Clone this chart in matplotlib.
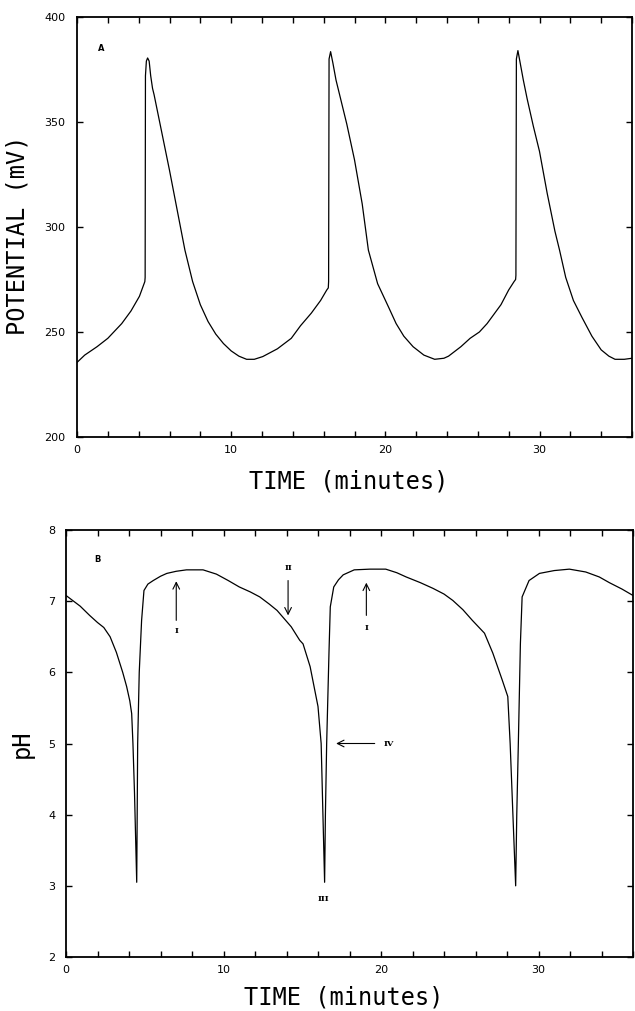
import numpy as np
import matplotlib.pyplot as plt

# panel A: potential (mV) vs time (min)
pot_t = [0.0, 0.5, 1.3, 2.0, 2.9, 3.5, 4.05, 4.3, 4.4,
         4.42, 4.44, 4.5, 4.58, 4.68, 4.78, 4.9, 5.0, 5.5, 6.0, 6.5, 7.0,
         7.5, 8.0, 8.5, 9.0, 9.5, 10.0, 10.5, 11.0, 11.5, 12.05, 13.0, 13.9,
         14.5, 15.2, 15.8, 16.2, 16.3,
         16.32, 16.35, 16.45, 16.6, 16.8, 17.1, 17.5, 18.0, 18.5, 18.9, 19.5,
         20.2, 20.7, 21.2, 21.8, 22.5, 23.2, 23.8, 24.1, 24.9, 25.5, 26.1,
         26.6, 27.0, 27.5, 28.0, 28.35, 28.45,
         28.47, 28.5, 28.6, 28.75, 28.95, 29.2, 29.6, 30.0, 30.5, 31.0, 31.3,
         31.7, 32.2, 32.75, 33.4, 34.0, 34.5, 34.9, 35.5, 36.0]
pot_v = [235.5, 239, 243, 247, 254, 260, 267, 272, 274,
         276, 372, 379, 380.5, 379, 372, 366, 363, 345, 327, 308, 289,
         274, 263, 255, 249, 244.5, 241, 238.5, 237, 237, 238.3, 242, 247,
         253, 259, 265, 270, 271,
         274, 380, 383.5, 378, 370, 361, 349, 332, 311, 289, 273,
         262, 254, 248, 243, 239, 237, 237.5, 238.5, 243, 247, 250,
         254, 258, 263, 270, 274, 275,
         277, 380, 384, 378, 370, 361, 348, 336, 316, 298, 289,
         276, 265, 257, 248, 241.5, 238.5, 237, 237, 237.5]

# panel B: pH vs time (min)
ph_t = [0.0, 0.9, 1.5, 2.0, 2.4, 2.8, 3.2, 3.6, 3.85, 4.05, 4.17, 4.25, 4.35, 4.49,
        4.52, 4.55, 4.65, 4.8, 4.95, 5.2, 5.54, 6.0, 6.4, 7.0, 7.65, 8.7,
        9.55, 10.3, 11.0, 11.7, 12.3, 12.9, 13.4, 14.3, 14.84, 15.05, 15.5,
        15.75, 16.0, 16.2, 16.42,
        16.47, 16.55, 16.7, 16.78, 17.0, 17.3, 17.6, 18.3, 19.3, 20.3, 21.0,
        21.6, 22.5, 23.3, 24.0, 24.56, 25.2, 25.8, 26.57, 27.1, 27.7, 28.05,
        28.2, 28.55,
        28.62, 28.72, 28.85, 28.96, 29.4, 30.06, 31.0, 31.96, 33.0, 33.86,
        34.5, 35.3, 36.0]
ph_v = [7.08, 6.93, 6.8, 6.7, 6.63, 6.5, 6.28, 6.0, 5.8, 5.6, 5.42, 5.0, 4.3, 3.05,
        4.0, 5.0, 6.0, 6.73, 7.15, 7.24, 7.29, 7.35, 7.39, 7.42, 7.44, 7.44,
        7.38, 7.29, 7.2, 7.13, 7.06, 6.96, 6.87, 6.64, 6.45, 6.4, 6.08,
        5.8, 5.52, 5.0, 3.05,
        4.0, 5.0, 6.3, 6.92, 7.2, 7.3, 7.37, 7.44, 7.45, 7.45, 7.4,
        7.34, 7.26, 7.18, 7.1, 7.01, 6.88, 6.73, 6.55, 6.27, 5.89, 5.66,
        5.0, 3.0,
        4.0, 5.0, 6.4, 7.06, 7.29, 7.39, 7.43, 7.45, 7.41, 7.34,
        7.26, 7.17, 7.08]

# arrow annotations on panel B: (label, arrow start, arrow end, label pos)
arrows = [
    ("I", (7.0, 6.73), (7.0, 7.28), (7.0, 6.58)),
    ("II", (14.1, 7.29), (14.1, 6.8), (14.1, 7.47)),
    ("I", (19.07, 6.8), (19.07, 7.26), (19.07, 6.62)),
    ("IV", (19.6, 5.0), (17.15, 5.0), (20.15, 5.0)),
]

label_font = "DejaVu Sans Mono"

fig = plt.figure(figsize=(6.35, 10.11), dpi=100)
ax1 = fig.add_axes([77 / 635, 1 - 437 / 1011, 555 / 635, 420 / 1011])
ax2 = fig.add_axes([66 / 635, 1 - 957 / 1011, 567 / 635, 427 / 1011])

ax1.plot(pot_t, pot_v, color="black", lw=0.9)
ax2.plot(ph_t, ph_v, color="black", lw=0.9)

ax1.set_xlim(0, 36)
ax1.set_ylim(200, 400)
ax1.set_yticks([200, 250, 300, 350, 400])
ax2.set_xlim(0, 36)
ax2.set_ylim(2, 8)
ax2.set_yticks([2, 3, 4, 5, 6, 7, 8])

for ax, ypad in ((ax1, 8.5), (ax2, 7.5)):
    ax.set_xticks([0, 10, 20, 30])
    ax.set_xticks(np.arange(0, 37, 2), minor=True)
    ax.tick_params(which="both", direction="in", length=4.5, width=1,
                   top=True, right=True, labelsize=8)
    ax.tick_params(axis="x", which="both", pad=6)
    ax.tick_params(axis="y", pad=ypad)
    for s in ax.spines.values():
        s.set_linewidth(1.3)
    ax.set_xlabel("TIME (minutes)", family=label_font, fontsize=17, va="center")

ax1.xaxis.set_label_coords(0.49, -44 / 420)
ax2.xaxis.set_label_coords(0.49, -41 / 427)

ax1.set_ylabel("POTENTIAL (mV)", family=label_font, fontsize=17, va="center")
ax1.yaxis.set_label_coords(-59 / 555, 0.48)
ax2.set_ylabel("pH", family=label_font, fontsize=17, va="center")
ax2.yaxis.set_label_coords(-44 / 567, 0.5)

ax1.text(1.55, 385, "A", fontsize=6, fontweight="bold", ha="center", va="center")
ax2.text(1.97, 7.58, "B", fontsize=6, fontweight="bold", ha="center", va="center")

for lab, start, end, pos in arrows:
    ax2.annotate("", xy=end, xytext=start,
                 arrowprops=dict(arrowstyle="->", lw=0.8, color="black",
                                 mutation_scale=12, shrinkA=0, shrinkB=0))
    ha = "left" if lab == "IV" else "center"
    ax2.text(pos[0], pos[1], lab, fontsize=6, fontweight="bold", family="serif",
             ha=ha, va="center")
ax2.text(16.35, 2.82, "III", fontsize=6, fontweight="bold", family="serif",
         ha="center", va="center")

fig.savefig("out.png", dpi=100)
